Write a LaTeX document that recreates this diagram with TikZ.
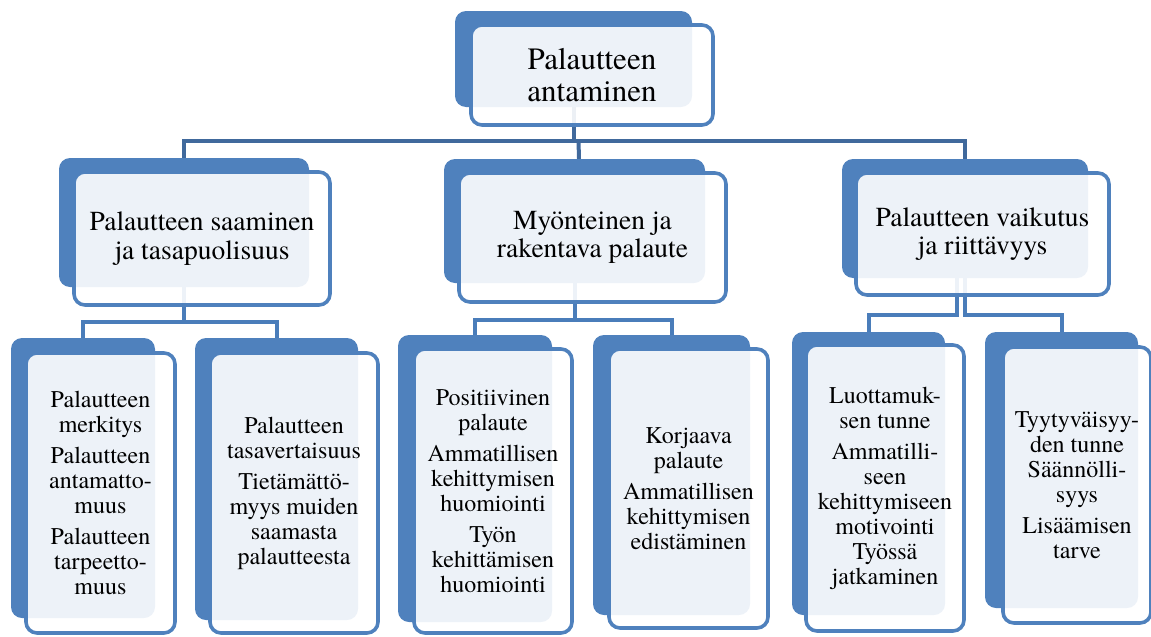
\documentclass[tikz,border=0pt]{standalone}
\usepackage{fontspec}
\setmainfont{texgyretermes}[Extension=.otf, UprightFont=*-regular, BoldFont=*-bold]
\usetikzlibrary{calc}
\pgfdeclarelayer{bg}
\pgfsetlayers{bg,main}
\definecolor{boxblue}{HTML}{4F81BD}
\definecolor{linedark}{HTML}{40699C}
\definecolor{linemid}{HTML}{4A7DBA}
\tikzset{
  backbox/.style={rectangle, rounded corners=11pt, fill=boxblue, draw=none, inner sep=0pt},
  frontbox/.style={rectangle, rounded corners=11pt, draw=boxblue, line width=3.6pt,
    fill=white, fill opacity=0.9, text opacity=1, text=black, inner sep=0pt, align=center},
  conna/.style={draw=linedark, line width=4pt, line join=miter},
  connb/.style={draw=linemid, line width=4pt, line join=miter},
  lone/.style={font=\rmfamily\fontsize{31}{32.5}\selectfont},
  ltwo/.style={font=\rmfamily\fontsize{27.5}{28.5}\selectfont},
  lthree/.style={font=\rmfamily\fontsize{24}{25}\selectfont},
}
\begin{document}
\begin{tikzpicture}[x=1pt,y=-1pt]
\useasboundingbox (0,0) rectangle (1151,637);
% top
\node[backbox, minimum width=237pt, minimum height=96pt] (bT) at (573.5,59) {};
\node[frontbox, lone, minimum width=242pt, minimum height=100pt] (fT) at (592,75) {Palautteen\\antaminen};
% level 2
\node[backbox, minimum width=250pt, minimum height=129pt] (bL) at (184,222.5) {};
\node[frontbox, ltwo, minimum width=256pt, minimum height=133pt] (fL) at (202,238.5) {Palautteen saaminen\\ja tasapuolisuus};
\node[backbox, minimum width=261pt, minimum height=124pt] (bM) at (574.5,221) {};
\node[frontbox, ltwo, minimum width=267pt, minimum height=129pt] (fM) at (592.5,237.5) {Myönteinen ja\\rakentava palaute};
\node[backbox, minimum width=246pt, minimum height=119pt] (bR) at (965,218.5) {};
\node[frontbox, ltwo, minimum width=253pt, minimum height=122pt] (fR) at (982.5,234) {Palautteen vaikutus\\ja riittävyys};
% level 3
\node[backbox, minimum width=144pt, minimum height=280pt] (b1) at (83,478) {};
\node[frontbox, lthree, minimum width=149pt, minimum height=280pt] (f1) at (100.5,493)
  {Palautteen\\merkitys\\[6pt]Palautteen\\antamatto-\\muus\\[6pt]Palautteen\\tarpeetto-\\muus};
\node[backbox, minimum width=163pt, minimum height=282pt] (b2) at (276.5,479) {};
\node[frontbox, lthree, minimum width=168pt, minimum height=280pt] (f2) at (294,493)
  {Palautteen\\tasavertaisuus\\[6pt]Tietämättö-\\myys muiden\\saamasta\\palautteesta};
\node[backbox, minimum width=154pt, minimum height=287pt] (b3) at (475,478.5) {};
\node[frontbox, lthree, minimum width=158pt, minimum height=284pt] (f3) at (493,491)
  {Positiivinen\\palaute\\[6pt]Ammatillisen\\kehittymisen\\huomiointi\\[6pt]Työn\\kehittämisen\\huomiointi};
\node[backbox, minimum width=157pt, minimum height=280pt] (b4) at (671.5,475) {};
\node[frontbox, lthree, minimum width=159pt, minimum height=279pt] (f4) at (688.5,488.5)
  {Korjaava\\palaute\\[6pt]Ammatillisen\\kehittymisen\\edistäminen};
\node[backbox, minimum width=153pt, minimum height=283pt] (b5) at (868.5,473.5) {};
\node[frontbox, lthree, minimum width=158pt, minimum height=286pt] (f5) at (885,488)
  {Luottamuk-\\sen tunne\\[6pt]Ammatilli-\\seen\\kehittymiseen\\motivointi\\Työssä\\jatkaminen};
\node[backbox, minimum width=153pt, minimum height=276pt] (b6) at (1061.5,470) {};
\node[frontbox, lthree, minimum width=148pt, minimum height=276pt] (f6) at (1077,485)
  {Tyytyväisyy-\\den tunne\\Säännölli-\\syys\\[6pt]Lisäämisen\\tarve};
% connector levels
\coordinate (h1) at (0,141);
\coordinate (hL) at (0,322);
\coordinate (hM) at (0,320);
\coordinate (hR) at (0,315);
\begin{pgfonlayer}{bg}
\draw[conna] (bT.south) -- (bT.south |- h1) -| (bL.north);
\draw[conna] (bT.south |- h1) -| (bR.north);
\draw[conna] ($(bT.south |- h1)+(5,0)$) -- ($(bM.north)+(4.5,0)$);
\draw[connb] (bL.south) -- (bL.south |- hL) -| (b1.north);
\draw[connb] (bL.south |- hL) -| (b2.north);
\draw[connb] (bM.south) -- (bM.south |- hM) -| (b3.north);
\draw[connb] (bM.south |- hM) -| (b4.north);
\draw[connb] ($(bR.south)+(-8,0)$) |- (hR -| b5.north) -- (b5.north);
\draw[connb] (bR.south) |- (hR -| b6.north) -- (b6.north);
\end{pgfonlayer}
\end{tikzpicture}
\end{document}
